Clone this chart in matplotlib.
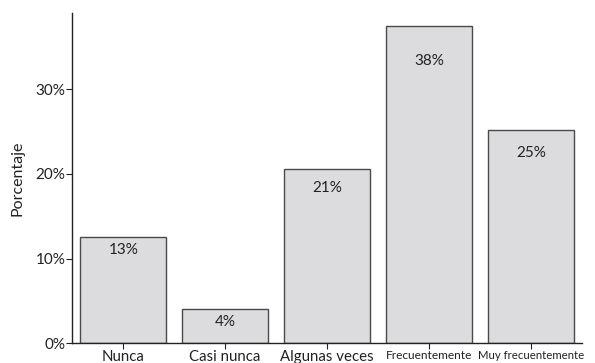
import matplotlib
matplotlib.use("Agg")
import matplotlib.pyplot as plt
from matplotlib.ticker import FuncFormatter

# Frequency categories and their share of responses (%)
categorias = ["Nunca", "Casi nunca", "Algunas veces", "Frecuentemente", "Muy frecuentemente"]
porcentajes = [12.6, 4.1, 20.6, 37.5, 25.2]
ticks_y = [0, 10, 20, 30]

plt.rcParams["font.family"] = ["Lato", "DejaVu Sans"]

fig = plt.figure(figsize=(5.95, 3.63), dpi=100)
ax = fig.add_axes([0.1215, 0.0543, 0.8565, 0.9099])

x = range(len(categorias))
bars = ax.bar(x, porcentajes, width=0.84, color="#dcdcde", edgecolor="#4a4a4a",
              linewidth=1.0)

ax.set_xlim(-0.5, 4.5)
ax.set_ylim(0, 39)

# value labels just inside the top of each bar
for xi, v in zip(x, porcentajes):
    y = min(v - 1.55, v * 0.89)
    ax.text(xi, y, f"{int(v + 0.5)}%", ha="center", va="center",
            fontsize=11, color="#222222")

ax.set_xticks(list(x))
ax.set_xticklabels(categorias)
for lbl, size in zip(ax.get_xticklabels(), [10.8, 10.8, 10.8, 8.6, 8.2]):
    lbl.set_fontsize(size)

ax.set_yticks(ticks_y)
ax.yaxis.set_major_formatter(FuncFormatter(lambda v, p: f"{v:.0f}%"))
ax.tick_params(axis="y", labelsize=11, length=4, width=0.8, pad=1, colors="#222222")
ax.tick_params(axis="x", length=4, width=0.8, pad=1, colors="#222222")

ax.set_ylabel("Porcentaje", fontsize=11.5, color="#222222", labelpad=8)

for side in ("top", "right"):
    ax.spines[side].set_visible(False)
for side in ("left", "bottom"):
    ax.spines[side].set_linewidth(1.0)
    ax.spines[side].set_color("#222222")

fig.savefig("out.png", dpi=100)
